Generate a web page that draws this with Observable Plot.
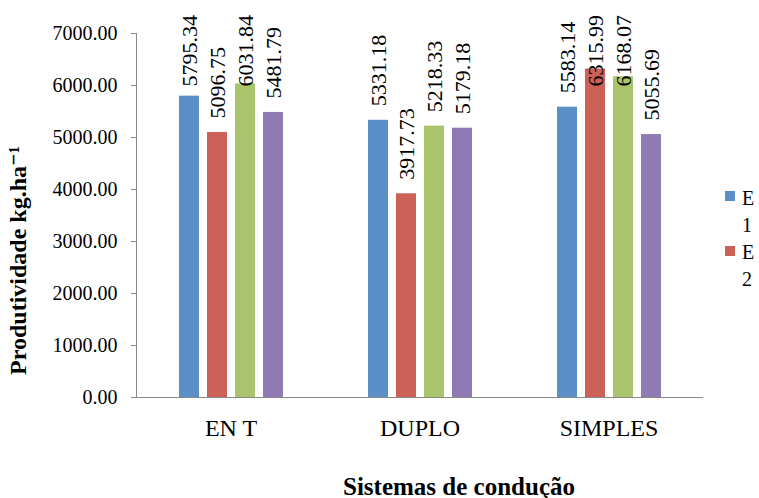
<!DOCTYPE html>
<html>
<head>
<meta charset="utf-8">
<script src="https://cdn.jsdelivr.net/npm/d3@7"></script>
<script src="https://cdn.jsdelivr.net/npm/@observablehq/plot@0.6"></script>
<style>
  html, body { margin: 0; padding: 0; background: #fff; }
  #wrap { position: relative; width: 759px; height: 498px; font-family: "Liberation Serif", "LiberationSerif", "Times New Roman", Times, "DejaVu Serif", serif; }
  .sw { position: absolute; width: 10px; height: 10px; }
  #legtext { position: absolute; left: 742px; top: 185px; font-size: 20px; line-height: 27px; color: #000; }
</style>
</head>
<body>
<div id="wrap">
  <div class="sw" style="left:725px; top:191px; background:#5B8FC7;"></div>
  <div class="sw" style="left:725px; top:246px; background:#CB6157;"></div>
  <div id="legtext">E<br>1<br>E<br>2</div>
</div>
<script>
// ---- data ----
const groups = ["EN T", "DUPLO", "SIMPLES"];
const series = ["E1", "E2", "E3", "E4"];
const valuesE1 = [5795.34, 5331.18, 5583.14];
const valuesE2 = [5096.75, 3917.73, 6315.99];
const valuesE3 = [6031.84, 5218.33, 6168.07];
const valuesE4 = [5481.79, 5179.18, 5055.69];
const yTicks = [0, 1000, 2000, 3000, 4000, 5000, 6000, 7000];
const colors = ["#5B8FC7", "#CB6157", "#A9C46A", "#8F7AB3"];
const yTitle = "Produtividade kg.ha\u207B\u00B9";
const xTitle = "Sistemas de condução";

// labels near the top are kept inside the chart area (as in the original)
const labelMax = 5710;

const seriesValues = [valuesE1, valuesE2, valuesE3, valuesE4];
const data = groups.flatMap((g, i) =>
  series.map((s, j) => ({ group: g, series: s, value: seriesValues[j][i] }))
);
const fmt = d3.format(".2f");
const serif = "'Liberation Serif', 'LiberationSerif', 'Times New Roman', Times, 'DejaVu Serif', serif";

const chart = Plot.plot({
  width: 759,
  height: 498,
  marginLeft: 135,
  marginRight: 55,
  marginTop: 33,
  marginBottom: 101,
  style: { fontFamily: serif, background: "transparent", color: "#000" },
  fx: { domain: groups, padding: 0 },
  x: { domain: series, paddingInner: 0.29, paddingOuter: 1.44, axis: null },
  y: { domain: [0, 7000] },
  color: { domain: series, range: colors },
  marks: [
    Plot.barY(data, { fx: "group", x: "series", y: "value", fill: "series" }),
    Plot.ruleY([0], { stroke: "#888" }),
    Plot.frame({ anchor: "left", stroke: "#888", facetAnchor: "left" }),
    Plot.axisY({ ticks: yTicks, tickFormat: fmt, tickSize: 5, tickPadding: 14, fontSize: 20, label: null, stroke: "#888", fill: "#000" }),
    Plot.axisFx({ anchor: "bottom", tickSize: 0, tickPadding: 21, fontSize: 24, label: null, fill: "#000" }),
    Plot.text(data, {
      fx: "group", x: "series",
      y: d => Math.min(d.value, labelMax),
      text: d => fmt(d.value),
      rotate: -90, textAnchor: "start", lineAnchor: "middle",
      dy: -14, fontSize: 22, fill: "#000"
    }),
    Plot.text([yTitle], {
      fx: () => groups[0], text: d => d, frameAnchor: "left",
      rotate: -90, dx: -118, dy: 45, fontSize: 24, fontWeight: "bold", fill: "#000",
      textAnchor: "middle", lineAnchor: "middle"
    }),
    Plot.text([xTitle], {
      fx: () => groups[1], text: d => d, frameAnchor: "bottom",
      dx: 39, dy: 89, fontSize: 25, fontWeight: "bold", fill: "#000",
      textAnchor: "middle", lineAnchor: "middle"
    })
  ]
});
chart.style.position = "absolute";
chart.style.left = "0px";
chart.style.top = "0px";
document.getElementById("wrap").prepend(chart);
</script>
</body>
</html>
